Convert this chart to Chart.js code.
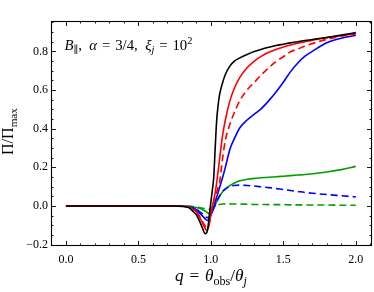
<!DOCTYPE html>
<html><head><meta charset="utf-8">
<script src="https://cdn.jsdelivr.net/npm/chart.js@4"></script>
<style>html,body{margin:0;padding:0;background:#fff}#wrap{width:374px;height:292px}</style>
</head><body><div id="wrap"><canvas id="c" width="374" height="292"></canvas></div>
<script>
// ---- data ----
const q = [0,0.2,0.4,0.6,0.7,0.75,0.8,0.85,0.88,0.9,0.92,0.94,0.96,0.97,0.98,0.99,1.0,1.01,1.02,1.03,1.04,1.05,1.06,1.08,1.1,1.13,1.16,1.2,1.25,1.3,1.35,1.4,1.45,1.5,1.55,1.6,1.65,1.7,1.8,1.9,2.0];
const blackSolid = [0,0,0,0,0,0,-0.002,-0.01,-0.03,-0.045,-0.075,-0.11,-0.143,-0.14,-0.11,-0.045,0.02,0.08,0.15,0.3,0.44,0.52,0.575,0.635,0.68,0.722,0.748,0.766,0.784,0.799,0.811,0.821,0.83,0.837,0.844,0.85,0.856,0.861,0.872,0.884,0.897];
const redSolid = [0,0,0,0,0,0,-0.001,-0.007,-0.02,-0.03,-0.055,-0.085,-0.115,-0.125,-0.12,-0.09,-0.035,0.0,0.03,0.07,0.12,0.18,0.24,0.36,0.445,0.54,0.605,0.665,0.715,0.75,0.775,0.795,0.81,0.822,0.833,0.842,0.85,0.858,0.871,0.882,0.892];
const redDashed = [0,0,0,0,0,0,-0.001,-0.006,-0.018,-0.028,-0.05,-0.078,-0.103,-0.112,-0.11,-0.085,-0.045,-0.01,0.02,0.045,0.07,0.095,0.12,0.24,0.34,0.42,0.48,0.545,0.6,0.64,0.68,0.715,0.748,0.772,0.798,0.812,0.828,0.84,0.862,0.878,0.89];
const blueSolid = [0,0,0,0,0,0,-0.001,-0.005,-0.012,-0.02,-0.035,-0.05,-0.065,-0.072,-0.075,-0.068,-0.05,-0.03,-0.005,0.02,0.045,0.07,0.095,0.145,0.2,0.29,0.345,0.405,0.445,0.475,0.505,0.545,0.59,0.64,0.695,0.74,0.775,0.8,0.845,0.868,0.883];
const blueDashed = [0,0,0,0,0,0,-0.001,-0.004,-0.01,-0.016,-0.028,-0.04,-0.052,-0.058,-0.06,-0.056,-0.045,-0.03,-0.012,0.005,0.022,0.038,0.052,0.075,0.088,0.1,0.106,0.108,0.106,0.103,0.099,0.095,0.09,0.085,0.08,0.075,0.07,0.066,0.059,0.053,0.047];
const greenSolid = [0,0,0,0,0,0,0,-0.002,-0.005,-0.008,-0.012,-0.018,-0.026,-0.031,-0.036,-0.04,-0.038,-0.028,-0.012,0.005,0.022,0.037,0.05,0.072,0.088,0.105,0.118,0.13,0.138,0.143,0.146,0.149,0.151,0.154,0.157,0.16,0.163,0.167,0.176,0.188,0.205];
const greenDashed = [0,0,0,0,0,0,0,-0.001,-0.003,-0.005,-0.008,-0.011,-0.015,-0.017,-0.018,-0.017,-0.014,-0.009,-0.004,0.0,0.003,0.006,0.008,0.01,0.011,0.011,0.01,0.01,0.009,0.008,0.008,0.007,0.007,0.007,0.006,0.006,0.005,0.005,0.005,0.004,0.004];
const xTicks = [0,0.5,1,1.5,2];
const xTickLabels = ['0.0','0.5','1.0','1.5','2.0'];
const yTicks = [-0.2,0,0.2,0.4,0.6,0.8];
const yTickLabels = ['\u22120.2','0.0','0.2','0.4','0.6','0.8'];
const xMinorStep = 0.1, yMinorStep = 0.05;

const FONT = "'Liberation Serif', 'DejaVu Serif', serif";
const GREEN = '#00a000';

function ds(vals, color, dashed){
  return {data: q.map((x,i)=>({x, y: vals[i]})), borderColor: color, borderWidth: 1.6,
    borderDash: dashed ? [7,4] : [], pointRadius: 0, fill: false, cubicInterpolationMode: 'monotone'};
}

function richWidth(ctx, segs, size){
  let w=0;
  for(const s of segs){
    const fs = (s.sub||s.sup) ? size*0.7 : size;
    ctx.font = (s.it?'italic ':'') + fs + 'px ' + FONT;
    w += ctx.measureText(s.t).width;
  }
  return w;
}
function drawRich(ctx, segs, x, y, size){
  ctx.textBaseline='alphabetic'; ctx.textAlign='left'; ctx.fillStyle='#000';
  for(const s of segs){
    const fs = (s.sub||s.sup) ? size*0.7 : size;
    ctx.font = (s.it?'italic ':'') + fs + 'px ' + FONT;
    const dy = s.sub ? size*0.22 : (s.sup ? -size*0.4 : 0);
    ctx.fillText(s.t, x, y+dy);
    x += ctx.measureText(s.t).width;
  }
}
// choose a font size so the text spans a given width
function fitSize(ctx, segs, targetW, base){
  const w = richWidth(ctx, segs, base);
  return base*targetW/w;
}

const SP = '\u2004';
const framePlugin = {
  id:'frame',
  afterDraw(chart){
    const {ctx, chartArea:a, scales:{x,y}} = chart;
    ctx.save();
    ctx.strokeStyle='#000'; ctx.lineWidth=1.1;
    ctx.strokeRect(a.left+0.5, a.top+0.5, a.right-a.left-1, a.bottom-a.top-1);
    ctx.lineWidth=0.9;
    ctx.beginPath();
    const isMajor=(v,arr)=>arr.some(m=>Math.abs(m-v)<1e-6);
    for(let v=Math.ceil(x.min/xMinorStep)*xMinorStep; v<=x.max+1e-9; v+=xMinorStep){
      const px=Math.round(x.getPixelForValue(v))+0.5;
      const len=isMajor(v,xTicks)?5:2.5;
      ctx.moveTo(px,a.bottom); ctx.lineTo(px,a.bottom-len);
      ctx.moveTo(px,a.top); ctx.lineTo(px,a.top+len);
    }
    for(let v=Math.ceil(y.min/yMinorStep)*yMinorStep; v<=y.max+1e-9; v+=yMinorStep){
      const py=Math.round(y.getPixelForValue(v))+0.5;
      const len=isMajor(v,yTicks)?5:2.5;
      ctx.moveTo(a.left,py); ctx.lineTo(a.left+len,py);
      ctx.moveTo(a.right,py); ctx.lineTo(a.right-len,py);
    }
    ctx.stroke();
    // annotation
    const ann=[{t:'B',it:1},{t:'\u2225',sub:1},{t:',  '},{t:'\u03b1',it:1},{t:SP+'='+SP+'3/4,  '},{t:'\u03be',it:1},{t:'j',it:1,sub:1},{t:SP+'='+SP+'10'},{t:'2',sup:1}];
    drawRich(ctx, ann, 64.5, 50, fitSize(ctx, ann, 128, 13));
    // x title
    const xt=[{t:'q',it:1},{t:SP+'='+SP},{t:'\u03b8',it:1},{t:'obs',sub:1},{t:'/'},{t:'\u03b8',it:1},{t:'j',it:1,sub:1}];
    const xs=fitSize(ctx, xt, 72, 15);
    drawRich(ctx, xt, 175, 281, xs);
    // y title
    const yt=[{t:'\u03a0/\u03a0'},{t:'max',sub:1}];
    const ys=fitSize(ctx, yt, 47, 14);
    ctx.translate(13, 131.5); ctx.rotate(-Math.PI/2);
    drawRich(ctx, yt, -23.5, 0, ys);
    ctx.restore();
  }
};

new Chart(document.getElementById('c'), {
  type:'line',
  data:{datasets:[
    ds(blackSolid,'#000000',false),
    ds(redSolid,'#ff0000',false),
    ds(redDashed,'#ff0000',true),
    ds(blueSolid,'#0000ff',false),
    ds(blueDashed,'#0000ff',true),
    ds(greenSolid,GREEN,false),
    ds(greenDashed,GREEN,true)
  ]},
  options:{
    responsive:false, animation:false, devicePixelRatio:1,
    layout:{padding:{top:21,right:2,left:0,bottom:0}},
    plugins:{legend:{display:false}, tooltip:{enabled:false}},
    scales:{
      x:{type:'linear', min:-0.103, max:2.112,
        grid:{display:false, drawTicks:false}, border:{display:false},
        afterBuildTicks:(s)=>{s.ticks=xTicks.map(v=>({value:v}));},
        afterFit:(s)=>{s.height=46;},
        ticks:{padding:7, color:'#000', maxRotation:0, autoSkip:false, font:{family:FONT,size:12},
          callback:(v)=>{const i=xTicks.findIndex(t=>Math.abs(t-v)<1e-6); return i>=0?xTickLabels[i]:'';}}},
      y:{type:'linear', min:-0.207, max:0.957,
        grid:{display:false, drawTicks:false}, border:{display:false},
        afterBuildTicks:(s)=>{s.ticks=yTicks.map(v=>({value:v}));},
        afterFit:(s)=>{s.width=51;},
        ticks:{padding:3, color:'#000', autoSkip:false, font:{family:FONT,size:12},
          callback:(v)=>{const i=yTicks.findIndex(t=>Math.abs(t-v)<1e-6); return i>=0?yTickLabels[i]:'';}}}
    }
  },
  plugins:[framePlugin]
});
</script></body></html>
